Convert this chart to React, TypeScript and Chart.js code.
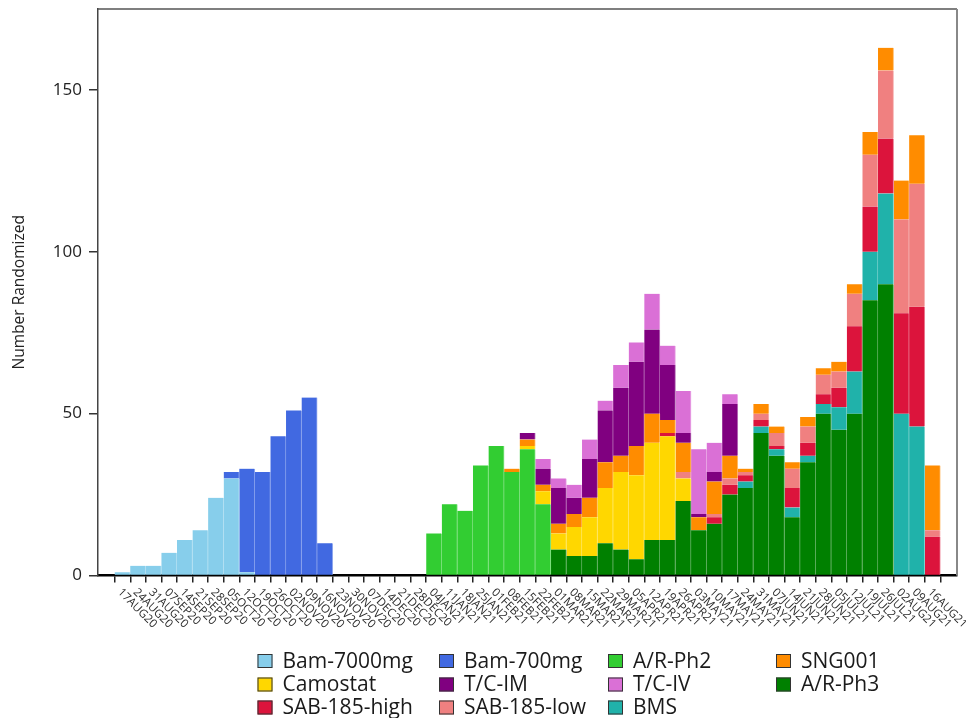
import React, { useEffect, useRef } from "react";
import { Chart, registerables } from "chart.js";

Chart.register(...registerables);

const FONT = "'Open Sans', 'Noto Sans', 'DejaVu Sans', sans-serif";

const weekLabels = [
  "17AUG20", "24AUG20", "31AUG20", "07SEP20", "14SEP20", "21SEP20", "28SEP20", "05OCT20", "12OCT20", "19OCT20",
  "26OCT20", "02NOV20", "09NOV20", "16NOV20", "23NOV20", "30NOV20", "07DEC20", "14DEC20", "21DEC20", "28DEC20",
  "04JAN21", "11JAN21", "18JAN21", "25JAN21", "01FEB21", "08FEB21", "15FEB21", "22FEB21", "01MAR21", "08MAR21",
  "15MAR21", "22MAR21", "29MAR21", "05APR21", "12APR21", "19APR21", "26APR21", "03MAY21", "10MAY21", "17MAY21",
  "24MAY21", "31MAY21", "07JUN21", "14JUN21", "21JUN21", "28JUN21", "05JUL21", "12JUL21", "19JUL21", "26JUL21",
  "02AUG21", "09AUG21", "16AUG21",
];

const yTicks = [0, 50, 100, 150];

const bam7000 = [
  1, 3, 3, 7, 11, 14, 24, 30, 1, 0,
  0, 0, 0, 0, 0, 0, 0, 0, 0, 0,
  0, 0, 0, 0, 0, 0, 0, 0, 0, 0,
  0, 0, 0, 0, 0, 0, 0, 0, 0, 0,
  0, 0, 0, 0, 0, 0, 0, 0, 0, 0,
  0, 0, 0,
];
const bam700 = [
  0, 0, 0, 0, 0, 0, 0, 2, 32, 32,
  43, 51, 55, 10, 0, 0, 0, 0, 0, 0,
  0, 0, 0, 0, 0, 0, 0, 0, 0, 0,
  0, 0, 0, 0, 0, 0, 0, 0, 0, 0,
  0, 0, 0, 0, 0, 0, 0, 0, 0, 0,
  0, 0, 0,
];
const arPh2 = [
  0, 0, 0, 0, 0, 0, 0, 0, 0, 0,
  0, 0, 0, 0, 0, 0, 0, 0, 0, 0,
  13, 22, 20, 34, 40, 32, 39, 22, 0, 0,
  0, 0, 0, 0, 0, 0, 0, 0, 0, 0,
  0, 0, 0, 0, 0, 0, 0, 0, 0, 0,
  0, 0, 0,
];
const arPh3 = [
  0, 0, 0, 0, 0, 0, 0, 0, 0, 0,
  0, 0, 0, 0, 0, 0, 0, 0, 0, 0,
  0, 0, 0, 0, 0, 0, 0, 0, 8, 6,
  6, 10, 8, 5, 11, 11, 23, 14, 16, 25,
  27, 44, 37, 18, 35, 50, 45, 50, 85, 90,
  0, 0, 0,
];
const bms = [
  0, 0, 0, 0, 0, 0, 0, 0, 0, 0,
  0, 0, 0, 0, 0, 0, 0, 0, 0, 0,
  0, 0, 0, 0, 0, 0, 0, 0, 0, 0,
  0, 0, 0, 0, 0, 0, 0, 0, 0, 0,
  2, 2, 2, 3, 2, 3, 7, 13, 15, 28,
  50, 46, 0,
];
const camostat = [
  0, 0, 0, 0, 0, 0, 0, 0, 0, 0,
  0, 0, 0, 0, 0, 0, 0, 0, 0, 0,
  0, 0, 0, 0, 0, 0, 1, 4, 5, 9,
  12, 17, 24, 26, 30, 32, 7, 0, 0, 0,
  0, 0, 0, 0, 0, 0, 0, 0, 0, 0,
  0, 0, 0,
];
const sabHigh = [
  0, 0, 0, 0, 0, 0, 0, 0, 0, 0,
  0, 0, 0, 0, 0, 0, 0, 0, 0, 0,
  0, 0, 0, 0, 0, 0, 0, 0, 0, 0,
  0, 0, 0, 0, 0, 1, 0, 0, 2, 3,
  2, 2, 1, 6, 4, 3, 6, 14, 14, 17,
  31, 37, 12,
];
const sabLow = [
  0, 0, 0, 0, 0, 0, 0, 0, 0, 0,
  0, 0, 0, 0, 0, 0, 0, 0, 0, 0,
  0, 0, 0, 0, 0, 0, 0, 0, 0, 0,
  0, 0, 0, 0, 0, 0, 2, 0, 1, 2,
  1, 2, 4, 6, 5, 6, 5, 10, 16, 21,
  29, 38, 2,
];
const sng001 = [
  0, 0, 0, 0, 0, 0, 0, 0, 0, 0,
  0, 0, 0, 0, 0, 0, 0, 0, 0, 0,
  0, 0, 0, 0, 0, 1, 2, 2, 3, 4,
  6, 8, 5, 9, 9, 4, 9, 4, 10, 7,
  1, 3, 2, 2, 3, 2, 3, 3, 7, 7,
  12, 15, 20,
];
const tcIm = [
  0, 0, 0, 0, 0, 0, 0, 0, 0, 0,
  0, 0, 0, 0, 0, 0, 0, 0, 0, 0,
  0, 0, 0, 0, 0, 0, 2, 5, 11, 5,
  12, 16, 21, 26, 26, 17, 3, 1, 3, 16,
  0, 0, 0, 0, 0, 0, 0, 0, 0, 0,
  0, 0, 0,
];
const tcIv = [
  0, 0, 0, 0, 0, 0, 0, 0, 0, 0,
  0, 0, 0, 0, 0, 0, 0, 0, 0, 0,
  0, 0, 0, 0, 0, 0, 0, 3, 3, 4,
  6, 3, 7, 6, 11, 6, 13, 20, 9, 3,
  0, 0, 0, 0, 0, 0, 0, 0, 0, 0,
  0, 0, 0,
];

// stacking order (bottom to top)
const series = [
  { label: "A/R-Ph2", data: arPh2, color: "#32CD32" },
  { label: "A/R-Ph3", data: arPh3, color: "#008000" },
  { label: "BMS", data: bms, color: "#20B2AA" },
  { label: "Bam-7000mg", data: bam7000, color: "#87CEEB" },
  { label: "Bam-700mg", data: bam700, color: "#4169E1" },
  { label: "Camostat", data: camostat, color: "#FFD700" },
  { label: "SAB-185-high", data: sabHigh, color: "#DC143C" },
  { label: "SAB-185-low", data: sabLow, color: "#F08080" },
  { label: "SNG001", data: sng001, color: "#FF8C00" },
  { label: "T/C-IM", data: tcIm, color: "#800080" },
  { label: "T/C-IV", data: tcIv, color: "#DA70D6" },
];

const legendOrder = [
  "Bam-7000mg", "Bam-700mg", "A/R-Ph2", "SNG001",
  "Camostat", "T/C-IM", "T/C-IV", "A/R-Ph3",
  "SAB-185-high", "SAB-185-low", "BMS",
];

function lighten(hex: string, t: number) {
  const n = parseInt(hex.slice(1), 16);
  const r = (n >> 16) & 255, g = (n >> 8) & 255, b = n & 255;
  const m = (v: number) => Math.round(v + (255 - v) * t);
  return `rgb(${m(r)},${m(g)},${m(b)})`;
}

const W = 966;
const H = 710;

const decorPlugin = {
  id: "decor",
  afterDraw(chart: any) {
    const { ctx, chartArea } = chart;
    const { left, right, top, bottom } = chartArea;
    ctx.save();
    // top and right frame
    ctx.strokeStyle = "#555";
    ctx.lineWidth = 1.5;
    ctx.beginPath();
    ctx.moveTo(left, top);
    ctx.lineTo(right, top);
    ctx.stroke();
    ctx.strokeStyle = "#888";
    ctx.lineWidth = 2;
    ctx.beginPath();
    ctx.moveTo(right, top);
    ctx.lineTo(right, bottom);
    ctx.stroke();

    // rotated x labels
    const xs = chart.scales.x;
    ctx.font = `11.5px ${FONT}`;
    ctx.fillStyle = "#2a2a2a";
    ctx.textAlign = "left";
    ctx.textBaseline = "middle";
    weekLabels.forEach((lab, i) => {
      const x = xs.getPixelForValue(i);
      ctx.save();
      ctx.translate(x - 3, bottom + 15);
      ctx.rotate(Math.PI / 4);
      ctx.fillText(lab, 0, 0);
      ctx.restore();
    });

    // legend grid
    const cols = [249.5, 431, 600, 768];
    const rows = [653, 676.5, 699.5];
    ctx.font = `21px ${FONT}`;
    legendOrder.forEach((name, k) => {
      const s = series.find((d) => d.label === name)!;
      const x = cols[k % 4];
      const yc = rows[Math.floor(k / 4)];
      ctx.fillStyle = s.color;
      ctx.fillRect(x, yc - 7, 15, 14);
      ctx.strokeStyle = "#333";
      ctx.lineWidth = 1;
      ctx.strokeRect(x + 0.5, yc - 6.5, 14, 13);
      ctx.fillStyle = "#1a1a1a";
      ctx.textBaseline = "middle";
      ctx.fillText(name, x + 25, yc + 1);
    });
    ctx.restore();
  },
};

export default function App() {
  const ref = useRef<HTMLCanvasElement | null>(null);

  useEffect(() => {
    if (!ref.current) return;
    Chart.defaults.font.family = FONT;
    const chart = new Chart(ref.current, {
      type: "bar",
      data: {
        datasets: series.map((s) => ({
          label: s.label,
          data: s.data.map((v, i) => ({ x: i, y: v === 0 ? null : v })),
          backgroundColor: s.color,
          borderColor: lighten(s.color, 0.45),
          borderWidth: { left: 0, right: 1, top: 0, bottom: 0 },
          borderSkipped: false,
          barPercentage: 1,
          categoryPercentage: 1,
        })),
      },
      options: {
        responsive: false,
        animation: false,
        layout: { padding: { top: 1, right: 17, left: 0, bottom: 0 } },
        plugins: {
          legend: { display: false },
          tooltip: { enabled: false },
        },
        scales: {
          x: {
            type: "linear",
            stacked: true,
            min: -1.05,
            max: 53.05,
            afterBuildTicks: (scale: any) => {
              scale.ticks = weekLabels.map((_, i) => ({ value: i }));
            },
            afterFit: (scale: any) => {
              scale.height = 142.5;
              scale.paddingLeft = 0;
              scale.paddingRight = 0;
            },
            ticks: { display: false },
            grid: {
              display: true,
              drawOnChartArea: false,
              drawTicks: true,
              tickLength: 7,
              color: "#222",
              lineWidth: 1.5,
            },
            border: { display: true, color: "#000", width: 2.5 },
          },
          y: {
            stacked: true,
            min: 0,
            max: 175,
            afterBuildTicks: (scale: any) => {
              scale.ticks = yTicks.map((v) => ({ value: v }));
            },
            afterFit: (scale: any) => {
              scale.width = 90;
              scale.paddingTop = 0;
              scale.paddingBottom = 0;
            },
            ticks: {
              padding: 7,
              color: "#222",
              font: { size: 17, family: FONT },
            },
            grid: {
              display: true,
              drawOnChartArea: false,
              drawTicks: true,
              tickLength: 9,
              color: "#333",
              lineWidth: 1.5,
            },
            border: { display: true, color: "#444", width: 1.5 },
            title: {
              display: true,
              text: "Number Randomized",
              color: "#222",
              font: { size: 15.5, family: FONT },
              padding: { top: 2, bottom: 0 },
            },
          },
        },
      },
      plugins: [decorPlugin],
    });
    return () => chart.destroy();
  }, []);

  return (
    <div style={{ width: W, height: H }}>
      <canvas ref={ref} width={W} height={H} style={{ display: "block" }} />
    </div>
  );
}
